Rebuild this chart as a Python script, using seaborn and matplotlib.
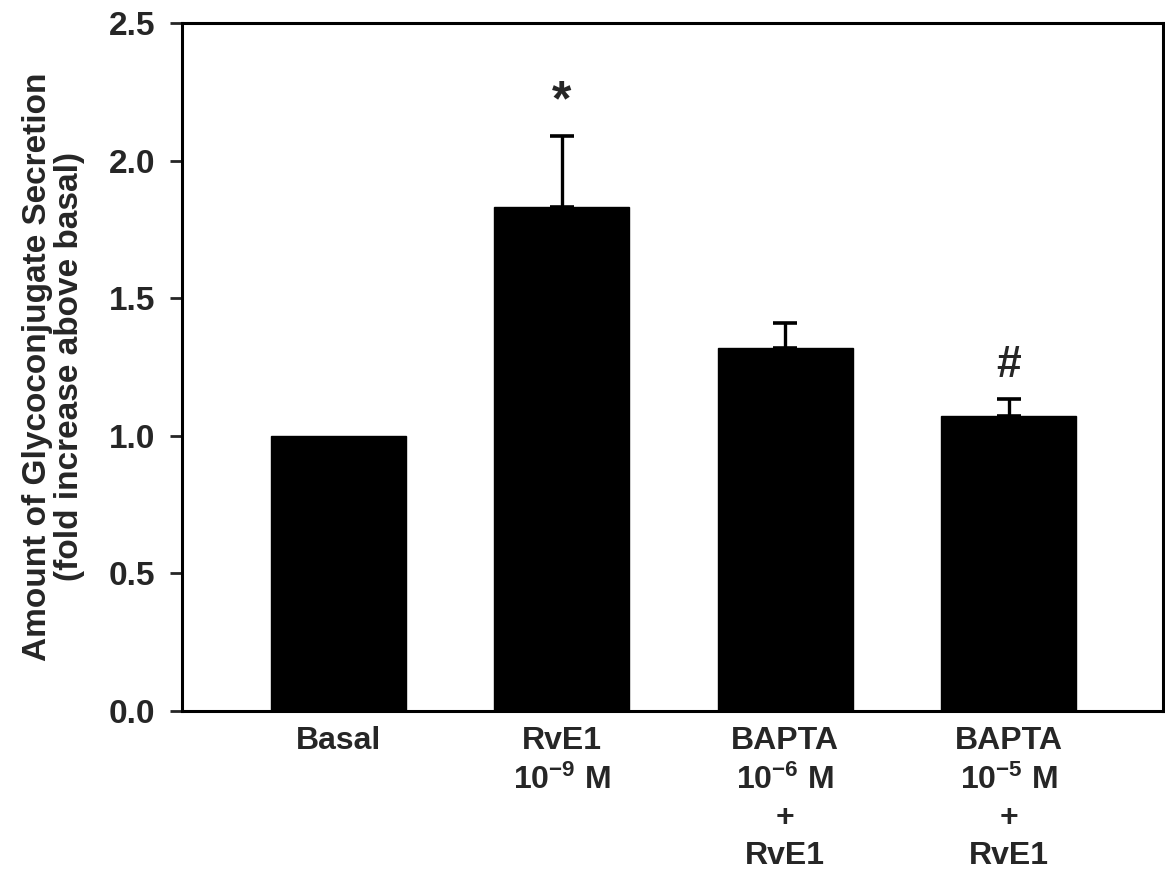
import numpy as np
import pandas as pd
import matplotlib
matplotlib.use("Agg")
import matplotlib.pyplot as plt
import seaborn as sns

# data
groups = ["Basal", "RvE1\n10$^{-9}$ M", "BAPTA\n10$^{-6}$ M\n+\nRvE1", "BAPTA\n10$^{-5}$ M\n+\nRvE1"]
fold = [1.00, 1.83, 1.32, 1.07]
sem = [0.00, 0.26, 0.09, 0.065]
marks = ["", "*", "", "#"]
yticks = [0.0, 0.5, 1.0, 1.5, 2.0, 2.5]

sns.set_style("white")
plt.rcParams["font.family"] = ["Liberation Sans", "DejaVu Sans"]
plt.rcParams["font.weight"] = "bold"
plt.rcParams["mathtext.fontset"] = "custom"
plt.rcParams["mathtext.rm"] = "Liberation Sans:bold"
plt.rcParams["mathtext.it"] = "Liberation Sans:bold"
plt.rcParams["mathtext.bf"] = "Liberation Sans:bold"
plt.rcParams["mathtext.default"] = "rm"

df = pd.DataFrame({"group": groups, "fold": fold, "sem": sem})

fig = plt.figure(figsize=(11.65, 8.71), dpi=100)
ax = fig.add_axes([0.1562, 0.1837, 0.842, 0.790])

sns.barplot(data=df, x="group", y="fold", color="black", width=0.605,
            saturation=1, errorbar=None, ax=ax)
for p in ax.patches:
    p.set_edgecolor("black")

xs = np.arange(len(groups))
has_err = df["sem"] > 0
ax.errorbar(xs[has_err], df["fold"][has_err],
            yerr=[np.zeros(has_err.sum()), df["sem"][has_err]], fmt="none",
            ecolor="black", elinewidth=2.4, capsize=8.5, capthick=2.6)

# significance marks above the error bars
for i, m in enumerate(marks):
    if m:
        ax.text(i, fold[i] + sem[i] + 0.12, m, ha="center", va="center",
                fontsize=36 if m == "*" else 32, fontweight="bold")

ax.set_xlim(-0.70, 3.69)
ax.set_ylim(0, 2.5)
ax.set_yticks(yticks)
ax.set_yticklabels([f"{t:.1f}" for t in yticks], fontsize=24, fontweight="bold")
ax.set_xticks(xs)
ax.set_xticklabels(groups, fontsize=23, fontweight="bold", linespacing=1.33, va="top")
ax.tick_params(axis="y", direction="out", length=9, width=2, pad=10, left=True)
ax.tick_params(axis="x", length=0, pad=11)

ax.set_xlabel("")
ax.set_ylabel("Amount of Glycoconjugate Secretion\n(fold increase above basal)",
              fontsize=24, fontweight="bold", linespacing=1.05)
ax.yaxis.set_label_coords(-0.099, 0.5)

for s in ax.spines.values():
    s.set_visible(True)
    s.set_color("black")
    s.set_linewidth(2.2)

fig.savefig("out.png", dpi=100, facecolor="white")
